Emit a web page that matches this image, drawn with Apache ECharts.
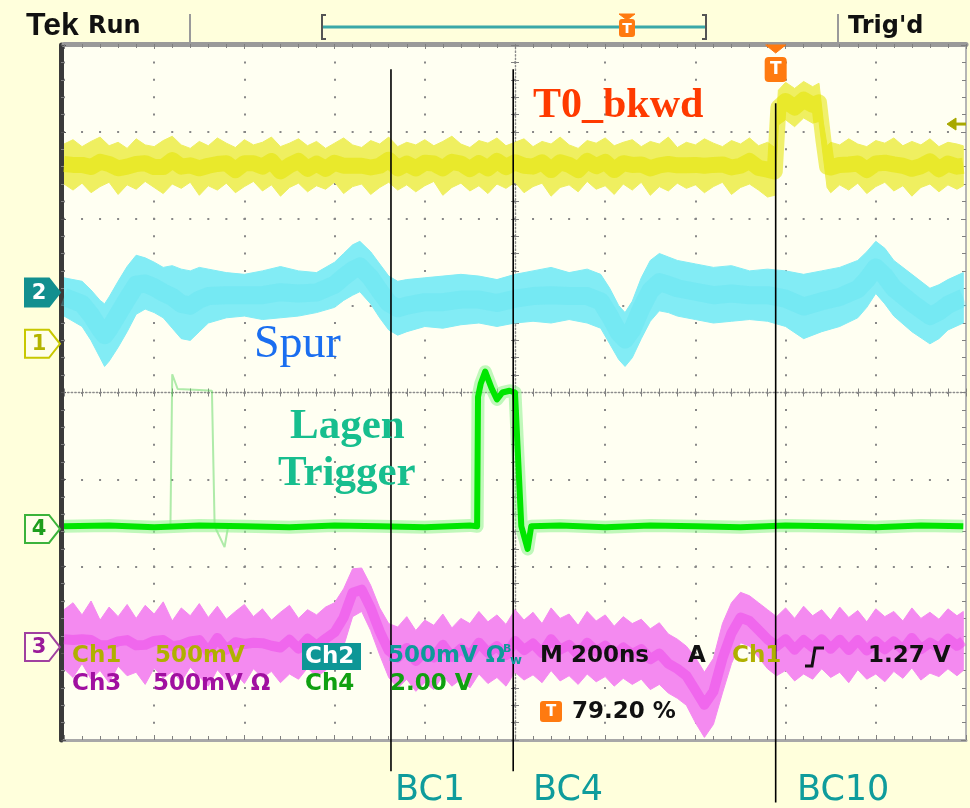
<!DOCTYPE html>
<html><head><meta charset="utf-8">
<script src="https://cdn.jsdelivr.net/npm/echarts@6/dist/echarts.min.js"></script>
<style>html,body{margin:0;padding:0;background:#FFFFDC;}#c{width:970px;height:808px;}</style>
</head><body><div id="c"></div>
<script>
// Time in divisions from screen centre (200 ns/div), level in divisions from centre.
// Each sample: [t, lower edge of trace band, upper edge of trace band]
const ch1 = [
[-5.0,2.40,2.86],[-4.9,2.33,2.91],[-4.8,2.41,2.83],[-4.7,2.30,2.89],[-4.6,2.37,2.94],[-4.5,2.42,2.84],[-4.4,2.28,2.88],[-4.3,2.39,2.81],[-4.2,2.34,2.92],[-4.1,2.43,2.85],
[-4.0,2.36,2.83],[-3.9,2.29,2.90],[-3.8,2.40,2.95],[-3.7,2.35,2.85],[-3.6,2.42,2.81],[-3.5,2.27,2.89],[-3.4,2.38,2.84],[-3.3,2.33,2.93],[-3.2,2.41,2.87],[-3.1,2.30,2.82],
[-3.0,2.37,2.91],[-2.9,2.43,2.85],[-2.8,2.32,2.88],[-2.7,2.39,2.94],[-2.6,2.26,2.83],[-2.5,2.36,2.87],[-2.4,2.41,2.92],[-2.3,2.31,2.84],[-2.2,2.38,2.89],[-2.1,2.34,2.81],
[-2.0,2.42,2.87],[-1.9,2.29,2.93],[-1.8,2.37,2.85],[-1.7,2.40,2.82],[-1.6,2.28,2.90],[-1.5,2.36,2.86],[-1.4,2.42,2.94],[-1.3,2.33,2.83],[-1.2,2.39,2.88],[-1.1,2.31,2.85],
[-1.0,2.38,2.91],[-0.9,2.43,2.84],[-0.8,2.27,2.89],[-0.7,2.36,2.95],[-0.6,2.41,2.86],[-0.5,2.32,2.82],[-0.4,2.38,2.90],[-0.3,2.29,2.87],[-0.2,2.40,2.93],[-0.1,2.35,2.84],
[0.0,2.42,2.88],[0.1,2.30,2.92],[0.2,2.37,2.83],[0.3,2.41,2.89],[0.4,2.26,2.86],[0.5,2.36,2.94],[0.6,2.39,2.85],[0.7,2.31,2.81],[0.8,2.43,2.90],[0.9,2.34,2.87],
[1.0,2.38,2.93],[1.1,2.28,2.84],[1.2,2.40,2.88],[1.3,2.33,2.91],[1.4,2.42,2.83],[1.5,2.27,2.89],[1.6,2.37,2.86],[1.7,2.32,2.94],[1.8,2.41,2.82],[1.9,2.35,2.88],
[2.0,2.39,2.85],[2.1,2.30,2.92],[2.2,2.37,2.87],[2.3,2.42,2.83],[2.4,2.28,2.90],[2.5,2.36,2.86],[2.6,2.40,2.93],[2.7,2.33,2.84],[2.8,2.25,2.88],[2.88,2.27,2.82],
[2.92,3.08,3.48],[3.0,3.14,3.57],[3.1,3.06,3.50],[3.2,3.16,3.58],[3.3,3.10,3.52],[3.37,3.12,3.56],[3.42,2.70,3.10],[3.46,2.36,2.84],
[3.5,2.30,2.88],[3.6,2.39,2.85],[3.7,2.33,2.92],[3.8,2.41,2.86],[3.9,2.29,2.83],[4.0,2.37,2.90],[4.1,2.42,2.87],[4.2,2.32,2.93],[4.3,2.38,2.84],[4.4,2.26,2.89],
[4.5,2.36,2.85],[4.6,2.40,2.92],[4.7,2.31,2.83],[4.8,2.39,2.88],[4.9,2.34,2.86],[4.97,2.38,2.84]
];
const ch2 = [
[-5.0,0.88,1.32],[-4.9,0.82,1.30],[-4.8,0.76,1.28],[-4.7,0.60,1.18],[-4.6,0.40,1.06],[-4.55,0.30,1.02],[-4.5,0.36,1.10],[-4.4,0.52,1.28],[-4.3,0.70,1.45],[-4.2,0.90,1.58],
[-4.1,0.96,1.55],[-4.0,0.92,1.50],[-3.9,0.86,1.44],[-3.8,0.74,1.46],[-3.7,0.62,1.42],[-3.6,0.60,1.40],[-3.5,0.70,1.44],[-3.4,0.80,1.42],[-3.2,0.86,1.38],[-3.0,0.88,1.36],
[-2.8,0.84,1.40],[-2.6,0.86,1.45],[-2.4,0.88,1.40],[-2.2,0.92,1.38],[-2.0,0.98,1.50],[-1.9,1.06,1.60],[-1.8,1.12,1.70],[-1.72,1.16,1.74],[-1.6,1.02,1.62],[-1.5,0.86,1.48],
[-1.4,0.72,1.34],[-1.3,0.66,1.28],[-1.2,0.70,1.30],[-1.0,0.76,1.32],[-0.8,0.74,1.34],[-0.6,0.78,1.36],[-0.4,0.80,1.34],[-0.2,0.76,1.30],[0.0,0.80,1.36],[0.2,0.82,1.40],
[0.4,0.80,1.44],[0.6,0.84,1.38],[0.8,0.80,1.42],[0.95,0.74,1.36],[1.05,0.56,1.20],[1.15,0.38,1.00],[1.22,0.30,0.92],[1.3,0.40,1.05],[1.4,0.62,1.32],[1.5,0.82,1.52],
[1.6,0.94,1.60],[1.7,0.92,1.56],[1.8,0.88,1.52],[2.0,0.84,1.48],[2.2,0.80,1.44],[2.4,0.82,1.46],[2.6,0.84,1.40],[2.8,0.82,1.42],[3.0,0.76,1.40],[3.2,0.62,1.36],
[3.4,0.70,1.40],[3.6,0.76,1.44],[3.8,0.86,1.52],[3.9,0.98,1.62],[4.0,1.14,1.74],[4.1,1.02,1.66],[4.2,0.88,1.52],[4.4,0.70,1.36],[4.6,0.56,1.20],[4.7,0.62,1.24],
[4.8,0.72,1.30],[4.97,0.80,1.38]
];
const ch3 = [
[-5.0,-3.18,-2.50],[-4.9,-3.28,-2.42],[-4.8,-3.12,-2.56],[-4.7,-3.30,-2.40],[-4.6,-3.20,-2.62],[-4.5,-3.34,-2.47],[-4.4,-3.15,-2.58],[-4.3,-3.26,-2.44],[-4.2,-3.22,-2.60],[-4.1,-3.36,-2.45],
[-4.0,-3.17,-2.55],[-3.9,-3.29,-2.41],[-3.8,-3.21,-2.63],[-3.7,-3.33,-2.48],[-3.6,-3.16,-2.57],[-3.5,-3.27,-2.43],[-3.4,-3.38,-2.59],[-3.3,-3.19,-2.46],[-3.2,-3.31,-2.61],[-3.1,-3.23,-2.52],
[-3.0,-3.35,-2.44],[-2.9,-3.18,-2.58],[-2.8,-3.28,-2.49],[-2.7,-3.21,-2.62],[-2.6,-3.34,-2.53],[-2.5,-3.24,-2.45],[-2.4,-3.30,-2.60],[-2.3,-3.17,-2.50],[-2.2,-3.27,-2.56],[-2.1,-3.20,-2.47],
[-2.0,-3.10,-2.42],[-1.9,-2.92,-2.26],[-1.8,-2.58,-2.03],[-1.7,-2.52,-2.02],[-1.6,-2.74,-2.22],[-1.5,-3.02,-2.48],[-1.4,-3.28,-2.66],[-1.3,-3.40,-2.70],[-1.2,-3.30,-2.58],[-1.1,-3.44,-2.74],
[-1.0,-3.34,-2.62],[-0.9,-3.42,-2.68],[-0.8,-3.26,-2.55],[-0.7,-3.38,-2.71],[-0.6,-3.30,-2.60],[-0.5,-3.40,-2.66],[-0.4,-3.24,-2.52],[-0.3,-3.35,-2.64],[-0.2,-3.28,-2.56],[-0.1,-3.38,-2.67],
[0.0,-3.22,-2.50],[0.1,-3.31,-2.62],[0.2,-3.25,-2.53],[0.3,-3.34,-2.66],[0.4,-3.20,-2.48],[0.5,-3.32,-2.60],[0.6,-3.26,-2.55],[0.7,-3.36,-2.68],[0.8,-3.24,-2.52],[0.9,-3.33,-2.63],
[1.0,-3.27,-2.56],[1.1,-3.38,-2.69],[1.2,-3.29,-2.58],[1.3,-3.36,-2.66],[1.4,-3.30,-2.61],[1.5,-3.42,-2.72],[1.6,-3.36,-2.65],[1.7,-3.46,-2.78],[1.8,-3.52,-2.84],[1.9,-3.60,-2.92],
[2.0,-3.80,-3.05],[2.1,-3.97,-3.22],[2.2,-3.82,-3.06],[2.3,-3.46,-2.66],[2.4,-3.12,-2.42],[2.5,-2.88,-2.30],[2.6,-2.92,-2.34],[2.7,-3.05,-2.42],[2.8,-3.18,-2.50],[2.9,-3.26,-2.58],
[3.0,-3.20,-2.48],[3.1,-3.32,-2.60],[3.2,-3.24,-2.46],[3.3,-3.30,-2.57],[3.4,-3.18,-2.50],[3.5,-3.28,-2.62],[3.6,-3.22,-2.47],[3.7,-3.34,-2.59],[3.8,-3.19,-2.51],[3.9,-3.30,-2.64],
[4.0,-3.24,-2.49],[4.1,-3.33,-2.58],[4.2,-3.21,-2.52],[4.3,-3.29,-2.63],[4.4,-3.17,-2.48],[4.5,-3.31,-2.60],[4.6,-3.23,-2.53],[4.7,-3.27,-2.61],[4.8,-3.18,-2.49],[4.9,-3.26,-2.57],[4.97,-3.20,-2.52]
];
// Ch4 (Lagen trigger): [t, level]
const ch4 = [
[-5.0,-1.54],[-4.5,-1.53],[-4.0,-1.55],[-3.5,-1.53],[-3.0,-1.54],[-2.5,-1.55],[-2.0,-1.53],[-1.5,-1.54],[-1.0,-1.55],[-0.5,-1.53],[-0.42,-1.54],
[-0.41,-0.05],[-0.38,0.10],[-0.33,0.24],[-0.26,0.05],[-0.20,-0.08],[-0.14,0.0],[-0.06,0.02],[0.0,0.0],[0.02,-0.02],
[0.07,-1.54],[0.14,-1.80],[0.18,-1.54],
[0.5,-1.53],[1.0,-1.55],[1.5,-1.53],[2.0,-1.54],[2.5,-1.55],[3.0,-1.53],[3.5,-1.54],[4.0,-1.55],[4.5,-1.53],[4.97,-1.54]
];
const ch4Ghost = [[-3.82,-1.54],[-3.80,0.21],[-3.74,0.04],[-3.5,0.03],[-3.36,0.02],[-3.33,-1.54],[-3.22,-1.78],[-3.18,-1.54]];
// BC markers: time position, line top and bottom (divisions)
const bcNames = ['BC1','BC4','BC10'];
const bcTime = [-1.375, -0.02, 2.89];
const bcTop = [3.72, 3.72, 3.33];
const bcBottom = [-4.36, -4.36, -4.72];
// channel ground markers (divisions)
const markerLabels = ['2','1','4','3'];
const markerLevels = [1.15, 0.56, -1.57, -2.93];
const triggerTime = 2.89;
const triggerLevel = 3.09;

const chart = echarts.init(document.getElementById('c'));

// band polygon (upper edge forward, lower edge back) drawn through the axes' scales
function band(arr, fill, core, coreW, coreOp, z){
  return [
    {type:'custom', silent:true, z:z, clip:true,
     data:[[arr[0][0], arr[0][1]]],
     renderItem: function(params, api){
       const pts = [];
       arr.forEach(p => pts.push(api.coord([p[0], p[2]])));
       for (let i = arr.length - 1; i >= 0; i--) pts.push(api.coord([arr[i][0], arr[i][1]]));
       return {type:'polygon', shape:{points:pts}, style:{fill:fill, stroke:fill, lineWidth:1}};
     }},
    {type:'line', data: arr.map(p=>[p[0],(p[1]+p[2])/2]), symbol:'none', silent:true,
     lineStyle:{color:core, width:coreW, opacity:coreOp, join:'round'}, z:z+1}
  ];
}

const tickGray = '#808080';
function borderX(pos, color, w, off){
  return {type:'value', min:-5, max:5, interval:1, position:pos, offset:off,
    axisLine:{show:true, onZero:false, lineStyle:{color:color, width:w}},
    axisTick:{show:true, inside:true, length:5, lineStyle:{color:tickGray, width:1}},
    minorTick:{show:true, splitNumber:5, length:4, lineStyle:{color:tickGray, width:1}},
    axisLabel:{show:false}, splitLine:{show:false}};
}
function borderY(pos, color, w, off){
  return {type:'value', min:-4, max:4, interval:1, position:pos, offset:off,
    axisLine:{show:true, onZero:false, lineStyle:{color:color, width:w}},
    axisTick:{show:true, inside:true, length:5, lineStyle:{color:tickGray, width:1}},
    minorTick:{show:true, splitNumber:5, length:4, lineStyle:{color:tickGray, width:1}},
    axisLabel:{show:false}, splitLine:{show:false}};
}
function centerX(inside, showLine){
  return {type:'value', min:-5, max:5, interval:1, position:'bottom',
    axisLine:{show:true, onZero:true, onZeroAxisIndex:0, lineStyle:{color: showLine ? '#8c8c8c' : 'rgba(0,0,0,0)', width:1.4, type:[1.4,2.2]}},
    axisTick:{show:true, inside:inside, length:4, lineStyle:{color:tickGray, width:1}},
    minorTick:{show:true, splitNumber:5, length:4, lineStyle:{color:tickGray, width:1}},
    axisLabel:{show:false}, splitLine:{show:false}};
}
function centerY(inside, showLine){
  return {type:'value', min:-4, max:4, interval:1, position:'left',
    axisLine:{show:true, onZero:true, onZeroAxisIndex:0, lineStyle:{color: showLine ? '#8c8c8c' : 'rgba(0,0,0,0)', width:1.4, type:[1.4,2.2]}},
    axisTick:{show:true, inside:inside, length:4, lineStyle:{color:tickGray, width:1}},
    minorTick:{show:true, splitNumber:5, length:4, lineStyle:{color:tickGray, width:1}},
    axisLabel:{show:false}, splitLine:{show:false}};
}

const xMain = borderX('bottom', '#a8a8a8', 3, 0);
xMain.splitLine = {show:true, lineStyle:{color:'#888888', width:2, type:[2,15.38], dashOffset:1}};
const yMain = borderY('left', '#3a3a3a', 5, 3);
yMain.axisTick.lineStyle.color = '#555';
yMain.splitLine = {show:true, lineStyle:{color:'#888888', width:2, type:[2,16.04], dashOffset:1}};

const series = [].concat(
  band(ch2, '#82ECF5', '#4FE0EE', 18, 0.25, 2),
  band(ch1, '#EFEF60', '#E4E400', 16, 0.55, 4),
  band(ch3, '#F48AF0', '#EC3CE8', 10, 0.45, 6),
  [
    {type:'line', data: ch4Ghost, symbol:'none', silent:true, lineStyle:{color:'#5FD85F', width:2, opacity:0.5}, z:7},
    {type:'line', data: ch4, symbol:'none', silent:true, lineStyle:{color:'#8CF28C', width:13, opacity:0.55, join:'round'}, z:8},
    {type:'line', data: ch4, symbol:'none', silent:true, lineStyle:{color:'#00E600', width:6, join:'round'}, z:9}
  ],
  bcTime.map((t,i)=>({type:'line', name:bcNames[i], data:[[t,bcTop[i]],[t,bcBottom[i]]], clip:false, symbol:'none', silent:true,
     lineStyle:{color:'#000', width:1.6}, z:12}))
);

chart.setOption({
  animation:false,
  backgroundColor:'#FFFFDC',
  grid:{left:64, right:4, top:45, bottom:68, show:true, backgroundColor:'#FFFFF2', borderWidth:0, outerBoundsMode:'none'},
  xAxis:[xMain, borderX('top', '#9a9a9a', 5, 1), centerX(false, true), centerX(true, false)],
  yAxis:[yMain, borderY('right', '#b5b5b5', 2, 0), centerY(false, true), centerY(true, false)],
  series: series
});

// decorations
const g = [];
function txt(text, x, y, font, fill, align){
  g.push({type:'text', z:100, x:x, y:y, style:{text:text, font:font, fill:fill, align:align||'left', verticalAlign:'middle', textAlign:align||'left', textVerticalAlign:'middle'}});
}
function poly(points, stroke, w, fill, closed){
  g.push({type: closed ? 'polygon' : 'polyline', z:100, shape:{points:points}, style:{stroke:stroke, lineWidth:w, fill: fill || 'none'}});
}
function rect(x,y,w,h,fill,r){ g.push({type:'rect', z:100, shape:{x:x,y:y,width:w,height:h,r:r||0}, style:{fill:fill}}); }

// header
txt('Tek', 26, 26, 'bold 32px "Liberation Sans"', '#111');
txt('Run', 88, 27, 'bold 24px "DejaVu Sans"', '#111');
txt("Trig'd", 848, 27, 'bold 24px "DejaVu Sans"', '#111');
poly([[190,14],[190,42]], '#9a9a9a', 2);
poly([[838,14],[838,42]], '#9a9a9a', 2);
poly([[326,15],[322,15],[322,39],[326,39]], '#555', 2);
poly([[702,15],[706,15],[706,39],[702,39]], '#555', 2);
poly([[323,27],[705,27]], '#3AA8A8', 3);
// record-view trigger marker
poly([[619,14],[635,14],[627,20]], '#FF7A10', 1, '#FF7A10', true);
rect(619,19,16,18,'#FF7A10',3);
txt('T', 627, 29, 'bold 14px "DejaVu Sans"', '#fff', 'center');

// annotations
txt('T0_bkwd', 533, 106, 'bold 42px "Liberation Serif"', '#FF3A00');
txt('Spur', 254, 345, '46px "Liberation Serif"', '#1A6EF0');
txt('Lagen', 290, 427, 'bold 43px "Liberation Serif"', '#17BE8E');
txt('Trigger', 278, 474, 'bold 43px "Liberation Serif"', '#17BE8E');
txt('BC1', 395, 791, '35px "DejaVu Sans"', '#0F9C9C');
txt('BC4', 533, 791, '35px "DejaVu Sans"', '#0F9C9C');
txt('BC10', 797, 791, '35px "DejaVu Sans"', '#0F9C9C');

// readouts
const rf = 'bold 23px "DejaVu Sans"';
txt('Ch1', 72, 656, rf, '#B0B000');
txt('500mV', 155, 656, rf, '#B0B000');
rect(302,643,59,27,'#0E9696');
txt('Ch2', 305, 657, rf, '#FFFFFF');
txt('500mV Ω', 388, 656, rf, '#0E9A9A');
txt('B', 503, 649, 'bold 11px "DejaVu Sans"', '#0E9A9A');
txt('w', 510, 661, 'bold 13px "DejaVu Sans"', '#0E9A9A');
txt('M 200ns', 540, 656, rf, '#111');
txt('A', 688, 656, rf, '#111');
txt('Ch1', 732, 656, rf, '#B0B000');
poly([[805,666],[812,666],[815,648],[824,648]], '#111', 3);
txt('1.27 V', 868, 656, rf, '#111');
txt('Ch3', 72, 684, rf, '#A010A0');
txt('500mV Ω', 153, 684, rf, '#A010A0');
txt('Ch4', 305, 684, rf, '#10A010');
txt('2.00 V', 390, 684, rf, '#10A010');
rect(540,701,22,21,'#FF7A10',3);
txt('T', 551, 712, 'bold 15px "DejaVu Sans"', '#fff', 'center');
txt('79.20 %', 572, 712, rf, '#111');

// markers tied to the axes
const mStyle = [
  {stroke:'#128F8F', fill:'#128F8F', text:'#FFFFFF'},
  {stroke:'#C8C800', fill:'#FFFFEA', text:'#B4B400'},
  {stroke:'#3BB33B', fill:'#FFFFEA', text:'#1E9E1E'},
  {stroke:'#A040A0', fill:'#FFFFEA', text:'#9A1A9A'}
];
markerLevels.forEach((lv,i)=>{
  const y = chart.convertToPixel({yAxisIndex:0}, lv);
  const s = mStyle[i];
  poly([[25,y-14],[49,y-14],[60,y],[49,y+14],[25,y+14]], s.stroke, 2, s.fill, true);
  txt(markerLabels[i], 39, y+1, 'bold 21px "DejaVu Sans"', s.text, 'center');
});
const tx = chart.convertToPixel({xAxisIndex:0}, triggerTime);
poly([[tx-10,45],[tx+10,45],[tx,53]], '#FF7A10', 1, '#FF7A10', true);
rect(tx-11,57,22,25,'#FF7A10',4);
txt('T', tx, 70, 'bold 17px "DejaVu Sans"', '#fff', 'center');
const ty = chart.convertToPixel({yAxisIndex:0}, triggerLevel);
poly([[947,ty],[956,ty-6],[956,ty+6]], '#A8A800', 1, '#A8A800', true);
poly([[955,ty],[966,ty]], '#A8A800', 3);

chart.setOption({graphic:g});
</script>
</body></html>
